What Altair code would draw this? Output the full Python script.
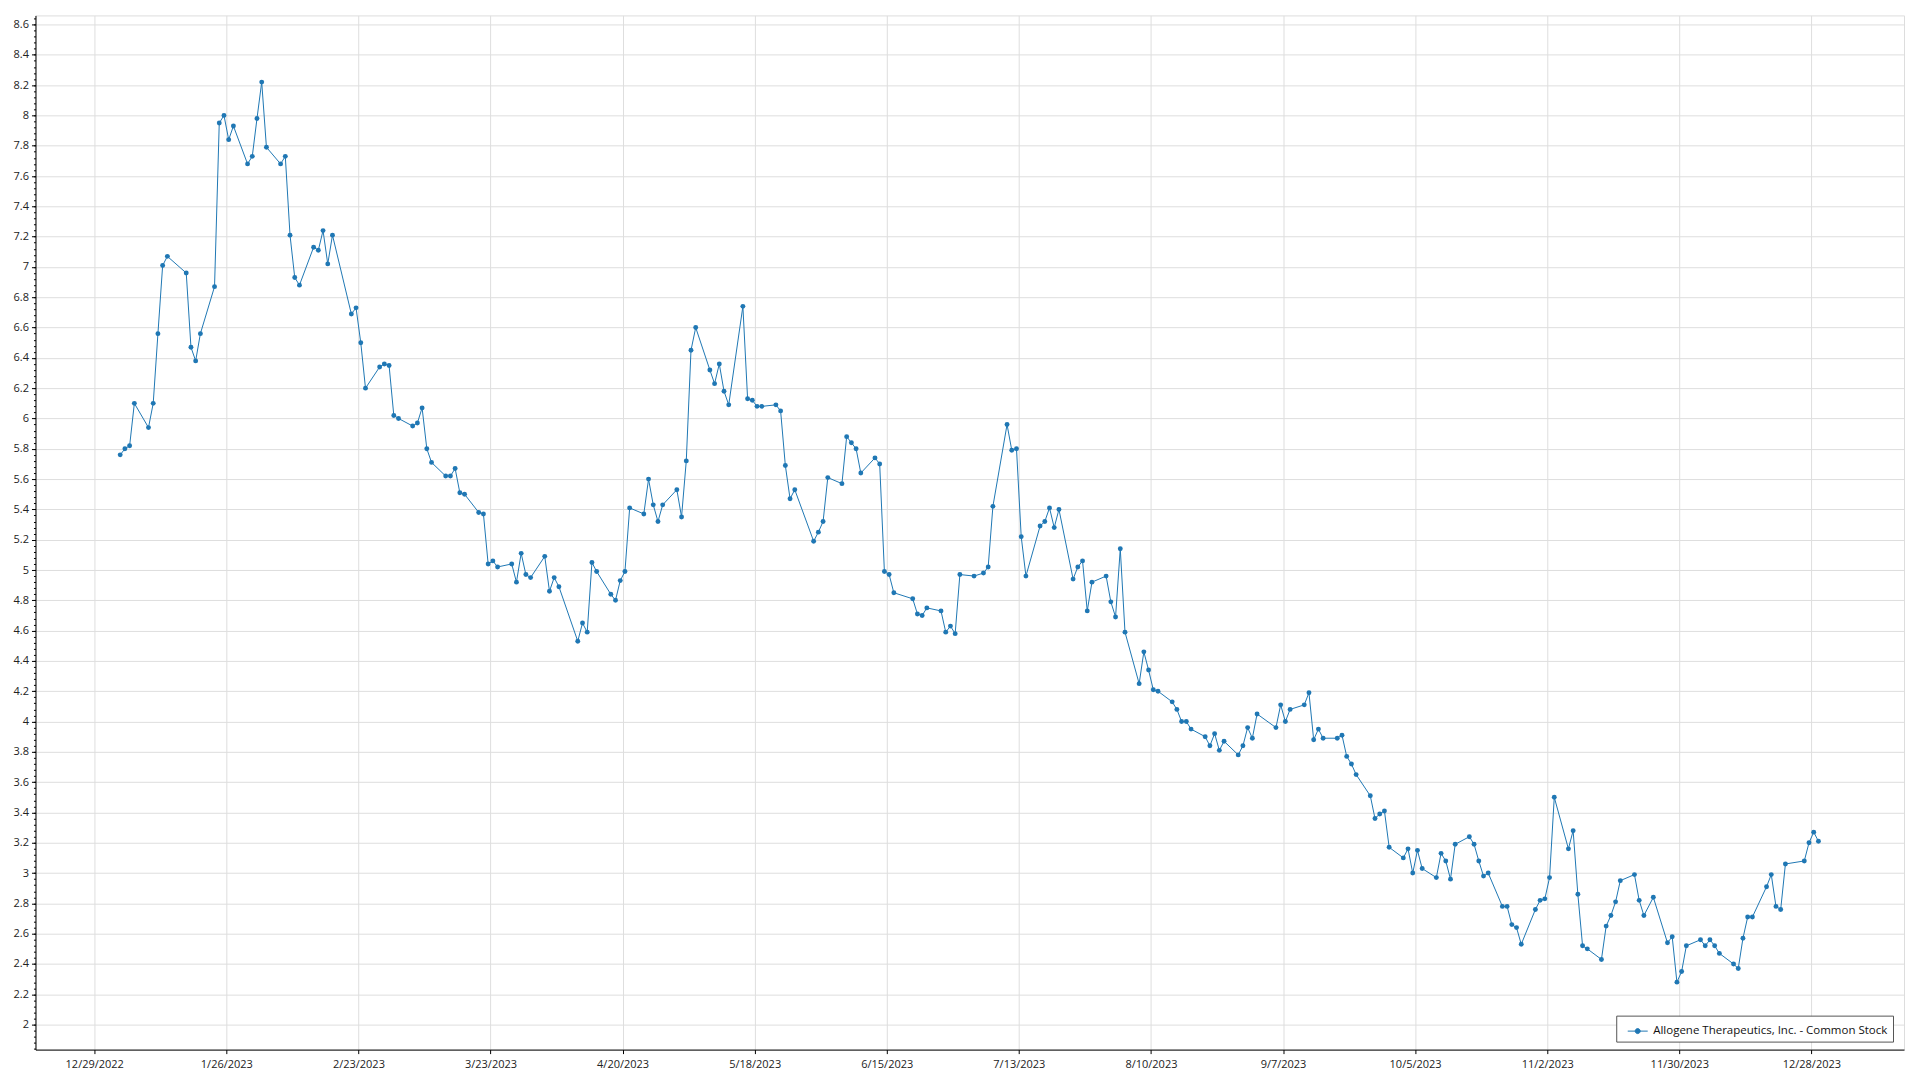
import altair as alt
import pandas as pd

SERIES = "Allogene Therapeutics, Inc. - Common Stock"
BLUE = "#1f77b4"

dates = [
    "2023-01-03", "2023-01-04", "2023-01-05", "2023-01-06",
    "2023-01-09", "2023-01-10", "2023-01-11", "2023-01-12", "2023-01-13",
    "2023-01-17", "2023-01-18", "2023-01-19", "2023-01-20",
    "2023-01-23", "2023-01-24", "2023-01-25", "2023-01-26", "2023-01-27",
    "2023-01-30", "2023-01-31", "2023-02-01", "2023-02-02", "2023-02-03",
    "2023-02-06", "2023-02-07", "2023-02-08", "2023-02-09", "2023-02-10",
    "2023-02-13", "2023-02-14", "2023-02-15", "2023-02-16", "2023-02-17",
    "2023-02-21", "2023-02-22", "2023-02-23", "2023-02-24",
    "2023-02-27", "2023-02-28", "2023-03-01", "2023-03-02", "2023-03-03",
    "2023-03-06", "2023-03-07", "2023-03-08", "2023-03-09", "2023-03-10",
    "2023-03-13", "2023-03-14", "2023-03-15", "2023-03-16", "2023-03-17",
    "2023-03-20", "2023-03-21", "2023-03-22", "2023-03-23", "2023-03-24",
    "2023-03-27", "2023-03-28", "2023-03-29", "2023-03-30", "2023-03-31",
    "2023-04-03", "2023-04-04", "2023-04-05", "2023-04-06",
    "2023-04-10", "2023-04-11", "2023-04-12", "2023-04-13", "2023-04-14",
    "2023-04-17", "2023-04-18", "2023-04-19", "2023-04-20", "2023-04-21",
    "2023-04-24", "2023-04-25", "2023-04-26", "2023-04-27", "2023-04-28",
    "2023-05-01", "2023-05-02", "2023-05-03", "2023-05-04", "2023-05-05",
    "2023-05-08", "2023-05-09", "2023-05-10", "2023-05-11", "2023-05-12",
    "2023-05-15", "2023-05-16", "2023-05-17", "2023-05-18", "2023-05-19",
    "2023-05-22", "2023-05-23", "2023-05-24", "2023-05-25", "2023-05-26",
    "2023-05-30", "2023-05-31", "2023-06-01", "2023-06-02",
    "2023-06-05", "2023-06-06", "2023-06-07", "2023-06-08", "2023-06-09",
    "2023-06-12", "2023-06-13", "2023-06-14", "2023-06-15", "2023-06-16",
    "2023-06-20", "2023-06-21", "2023-06-22", "2023-06-23",
    "2023-06-26", "2023-06-27", "2023-06-28", "2023-06-29", "2023-06-30",
    "2023-07-03", "2023-07-05", "2023-07-06", "2023-07-07",
    "2023-07-10", "2023-07-11", "2023-07-12", "2023-07-13", "2023-07-14",
    "2023-07-17", "2023-07-18", "2023-07-19", "2023-07-20", "2023-07-21",
    "2023-07-24", "2023-07-25", "2023-07-26", "2023-07-27", "2023-07-28",
    "2023-07-31", "2023-08-01", "2023-08-02", "2023-08-03", "2023-08-04",
    "2023-08-07", "2023-08-08", "2023-08-09", "2023-08-10", "2023-08-11",
    "2023-08-14", "2023-08-15", "2023-08-16", "2023-08-17", "2023-08-18",
    "2023-08-21", "2023-08-22", "2023-08-23", "2023-08-24", "2023-08-25",
    "2023-08-28", "2023-08-29", "2023-08-30", "2023-08-31", "2023-09-01",
    "2023-09-05", "2023-09-06", "2023-09-07", "2023-09-08",
    "2023-09-11", "2023-09-12", "2023-09-13", "2023-09-14", "2023-09-15",
    "2023-09-18", "2023-09-19", "2023-09-20", "2023-09-21", "2023-09-22",
    "2023-09-25", "2023-09-26", "2023-09-27", "2023-09-28", "2023-09-29",
    "2023-10-02", "2023-10-03", "2023-10-04", "2023-10-05", "2023-10-06",
    "2023-10-09", "2023-10-10", "2023-10-11", "2023-10-12", "2023-10-13",
    "2023-10-16", "2023-10-17", "2023-10-18", "2023-10-19", "2023-10-20",
    "2023-10-23", "2023-10-24", "2023-10-25", "2023-10-26", "2023-10-27",
    "2023-10-30", "2023-10-31", "2023-11-01", "2023-11-02", "2023-11-03",
    "2023-11-06", "2023-11-07", "2023-11-08", "2023-11-09", "2023-11-10",
    "2023-11-13", "2023-11-14", "2023-11-15", "2023-11-16", "2023-11-17",
    "2023-11-20", "2023-11-21", "2023-11-22", "2023-11-24",
    "2023-11-27", "2023-11-28", "2023-11-29", "2023-11-30", "2023-12-01",
    "2023-12-04", "2023-12-05", "2023-12-06", "2023-12-07", "2023-12-08",
    "2023-12-11", "2023-12-12", "2023-12-13", "2023-12-14", "2023-12-15",
    "2023-12-18", "2023-12-19", "2023-12-20", "2023-12-21", "2023-12-22",
    "2023-12-26", "2023-12-27", "2023-12-28", "2023-12-29",
]

prices = [
    5.76, 5.80, 5.82, 6.10,
    5.94, 6.10, 6.56, 7.01, 7.07,
    6.96, 6.47, 6.38, 6.56,
    6.87, 7.95, 8.00, 7.84, 7.93,
    7.68, 7.73, 7.98, 8.22, 7.79,
    7.68, 7.73, 7.21, 6.93, 6.88,
    7.13, 7.11, 7.24, 7.02, 7.21,
    6.69, 6.73, 6.50, 6.20,
    6.34, 6.36, 6.35, 6.02, 6.00,
    5.95, 5.97, 6.07, 5.80, 5.71,
    5.62, 5.62, 5.67, 5.51, 5.50,
    5.38, 5.37, 5.04, 5.06, 5.02,
    5.04, 4.92, 5.11, 4.97, 4.95,
    5.09, 4.86, 4.95, 4.89,
    4.53, 4.65, 4.59, 5.05, 4.99,
    4.84, 4.80, 4.93, 4.99, 5.41,
    5.37, 5.60, 5.43, 5.32, 5.43,
    5.53, 5.35, 5.72, 6.45, 6.60,
    6.32, 6.23, 6.36, 6.18, 6.09,
    6.74, 6.13, 6.12, 6.08, 6.08,
    6.09, 6.05, 5.69, 5.47, 5.53,
    5.19, 5.25, 5.32, 5.61,
    5.57, 5.88, 5.84, 5.80, 5.64,
    5.74, 5.70, 4.99, 4.97, 4.85,
    4.81, 4.71, 4.70, 4.75,
    4.73, 4.59, 4.63, 4.58, 4.97,
    4.96, 4.98, 5.02, 5.42,
    5.96, 5.79, 5.80, 5.22, 4.96,
    5.29, 5.32, 5.41, 5.28, 5.40,
    4.94, 5.02, 5.06, 4.73, 4.92,
    4.96, 4.79, 4.69, 5.14, 4.59,
    4.25, 4.46, 4.34, 4.21, 4.20,
    4.13, 4.08, 4.00, 4.00, 3.95,
    3.90, 3.84, 3.92, 3.81, 3.87,
    3.78, 3.84, 3.96, 3.89, 4.05,
    3.96, 4.11, 4.00, 4.08,
    4.11, 4.19, 3.88, 3.95, 3.89,
    3.89, 3.91, 3.77, 3.72, 3.65,
    3.51, 3.36, 3.39, 3.41, 3.17,
    3.10, 3.16, 3.00, 3.15, 3.03,
    2.97, 3.13, 3.08, 2.96, 3.19,
    3.24, 3.19, 3.08, 2.98, 3.00,
    2.78, 2.78, 2.66, 2.64, 2.53,
    2.76, 2.82, 2.83, 2.97, 3.50,
    3.16, 3.28, 2.86, 2.52, 2.50,
    2.43, 2.65, 2.72, 2.81, 2.95,
    2.99, 2.82, 2.72, 2.84,
    2.54, 2.58, 2.28, 2.35, 2.52,
    2.56, 2.52, 2.56, 2.52, 2.47,
    2.40, 2.37, 2.57, 2.71, 2.71,
    2.91, 2.99, 2.78, 2.76, 3.06,
    3.08, 3.20, 3.27, 3.21,
]

y_ticks = [2.0, 2.2, 2.4, 2.6, 2.8, 3.0, 3.2, 3.4, 3.6, 3.8, 4.0, 4.2, 4.4,
           4.6, 4.8, 5.0, 5.2, 5.4, 5.6, 5.8, 6.0, 6.2, 6.4, 6.6, 6.8, 7.0,
           7.2, 7.4, 7.6, 7.8, 8.0, 8.2, 8.4, 8.6]
y_minor = [round(1.84 + 0.04 * i, 2) for i in range(171)]

x_tick_dates = [(2022, 12, 29), (2023, 1, 26), (2023, 2, 23), (2023, 3, 23),
                (2023, 4, 20), (2023, 5, 18), (2023, 6, 15), (2023, 7, 13),
                (2023, 8, 10), (2023, 9, 7), (2023, 10, 5), (2023, 11, 2),
                (2023, 11, 30), (2023, 12, 28)]

df = pd.DataFrame({
    "date": [d + "T12:00:00Z" for d in dates],
    "price": prices,
    "series": [SERIES] * len(dates),
})

FONT = "Open Sans"
x_values = [alt.DateTime(year=y, month=m, date=d, utc=True) for (y, m, d) in x_tick_dates]
x_scale = alt.Scale(
    type="utc",
    domain=[alt.DateTime(year=2022, month=12, date=16, hours=13, utc=True),
            alt.DateTime(year=2024, month=1, date=16, hours=15, minutes=20, utc=True)],
)
y_scale = alt.Scale(domain=[1.835, 8.66], nice=False, zero=False)

x_enc = alt.X(
    "date:T", scale=x_scale, title=None,
    axis=alt.Axis(values=x_values, format="%-m/%-d/%Y", grid=True, gridColor="#dedede",
                  tickSize=4, tickColor="#000", domainColor="#000", labelFont=FONT,
                  labelFontSize=11, labelColor="#222", labelPadding=5, labelFlush=False,
                  labelOverlap=False),
)

line = alt.Chart(df).mark_line(strokeWidth=1, color=BLUE).encode(
    x=x_enc,
    y=alt.Y("price:Q", scale=y_scale, title=None,
            axis=alt.Axis(values=y_ticks, format="~f", orient="left", grid=True,
                          gridColor="#dedede", tickSize=4, tickColor="#000",
                          domainColor="#000", labelFont=FONT, labelFontSize=11,
                          labelColor="#222", labelPadding=3)),
    color=alt.Color("series:N", scale=alt.Scale(range=[BLUE]),
                    legend=alt.Legend(title=None, orient="none", legendX=1582, legendY=1001,
                                      fillColor="white", strokeColor="#555", padding=5,
                                      symbolOffset=6, labelOffset=5,
                                      symbolType="M-1,0L1,0M-0.25,0A0.25,0.25,0,1,1,0.25,0A0.25,0.25,0,1,1,-0.25,0Z",
                                      symbolSize=400, symbolStrokeWidth=1,
                                      symbolFillColor=BLUE, symbolStrokeColor=BLUE,
                                      labelFont=FONT, labelFontSize=11.5, labelColor="#111",
                                      labelLimit=400)),
)

points = alt.Chart(df).mark_circle(size=24, color=BLUE, opacity=1).encode(
    x=alt.X("date:T", scale=x_scale),
    y=alt.Y("price:Q", scale=y_scale, title=None,
            axis=alt.Axis(values=y_minor, orient="left", labels=False, grid=False,
                          domain=False, tickSize=2, tickColor="#000")),
)

chart = alt.layer(line, points).resolve_axis(y="independent").properties(
    width=1870,
    height=1035,
    autosize=alt.AutoSizeParams(type="none"),
    padding={"left": 27.5, "top": 7, "right": 8, "bottom": 30},
).configure_view(stroke="#000", strokeWidth=1).configure(background="white")

chart.save("out.html", embed_options={"renderer": "svg", "actions": False})
